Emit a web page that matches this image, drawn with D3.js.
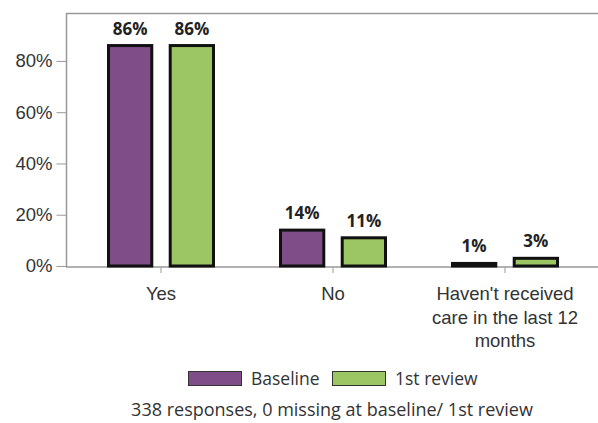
<!DOCTYPE html>
<meta charset="utf-8">
<head>
<style>
  body { margin: 0; background: #fff; }
  svg { font-family: "Open Sans", sans-serif; }
  .tick text { font-size: 18.5px; fill: #333; }
  .val { font-size: 17px; font-weight: bold; fill: #222; text-anchor: middle; }
  .legend text { font-size: 17.5px; fill: #333; }
  .footer { font-size: 18px; fill: #333; text-anchor: middle; }
</style>
<script src="https://d3js.org/d3.v7.min.js"></script>
</head>
<body>
<svg width="598" height="423"></svg>
<script>
// data
var categories = ["Yes", "No", "Haven't received care in the last 12 months"];
var series = ["Baseline", "1st review"];
var baseline = [86, 14, 1];
var review = [86, 11, 3];
var yTicks = [0, 20, 40, 60, 80];
var colors = ["#7f4d87", "#9cc563"];

var svg = d3.select("svg");
var plotLeft = 66, plotTop = 13, plotBottom = 266, plotRight = 598;

var x0 = d3.scaleBand().domain(categories).range([75, 591]);
var x1 = d3.scaleBand().domain(series).range([32, 140]).paddingInner(0.25);
var y = d3.scaleLinear().domain([0, 98.7]).range([plotBottom, plotTop]);

// frame
svg.append("line").attr("x1", plotLeft).attr("x2", plotRight).attr("y1", plotTop + 0.5).attr("y2", plotTop + 0.5)
    .attr("stroke", "#999").attr("stroke-width", 1.5);
svg.append("line").attr("x1", plotLeft + 0.5).attr("x2", plotLeft + 0.5).attr("y1", plotTop).attr("y2", plotBottom + 1)
    .attr("stroke", "#999").attr("stroke-width", 1.5);

// y axis
var yAxis = svg.append("g").attr("transform", "translate(" + (plotLeft + 0.5) + ",0)")
    .call(d3.axisLeft(y).tickValues(yTicks).tickFormat(function(d){ return d + "%"; }).tickSize(10).tickSizeOuter(0).tickPadding(4));
yAxis.select(".domain").remove();
yAxis.selectAll("line").attr("stroke", "#999");

// x axis
var xAxis = svg.append("g").attr("transform", "translate(0," + (plotBottom + 1) + ")")
    .call(d3.axisBottom(x0).tickSize(6).tickSizeOuter(0).tickPadding(14));
xAxis.select(".domain").attr("d", "M" + plotLeft + ",0H" + plotRight).attr("stroke", "#999").attr("stroke-width", 1.5);
xAxis.selectAll("line").attr("stroke", "#999");
xAxis.selectAll(".tick text").each(function(d) {
  var t = d3.select(this);
  if (d.length > 20) {
    var lines = ["Haven't received", "care in the last 12", "months"];
    t.text(null);
    lines.forEach(function(l, i) {
      t.append("tspan").attr("x", 0).attr("dy", i === 0 ? "0.71em" : "1.27em").text(l);
    });
  }
});

// bars
var rows = categories.map(function(c, i) { return {cat: c, vals: [baseline[i], review[i]]}; });
var groups = svg.append("g").selectAll("g").data(rows).enter().append("g")
    .attr("transform", function(d){ return "translate(" + x0(d.cat) + ",0)"; });
groups.selectAll("rect").data(function(d){ return d.vals.map(function(v, j){ return {s: series[j], v: v, c: colors[j]}; }); })
  .enter().append("rect")
    .attr("x", function(d){ return x1(d.s) + 1.5; })
    .attr("width", x1.bandwidth() - 3)
    .attr("y", function(d){ return y(d.v); })
    .attr("height", function(d){ return plotBottom - y(d.v); })
    .attr("fill", function(d){ return d.c; })
    .attr("stroke", "#111").attr("stroke-width", 3);
groups.selectAll("text").data(function(d){ return d.vals.map(function(v, j){ return {s: series[j], v: v}; }); })
  .enter().append("text").attr("class", "val")
    .attr("x", function(d){ return x1(d.s) + x1.bandwidth() / 2; })
    .attr("y", function(d){ return y(d.v) - 11; })
    .text(function(d){ return d.v + "%"; });

// legend
var lx = [188, 332];
var legend = svg.append("g").attr("class", "legend");
series.forEach(function(s, i) {
  legend.append("rect").attr("x", lx[i] + 0.5).attr("y", 371.5).attr("width", 53).attr("height", 14)
    .attr("fill", colors[i]).attr("stroke", "#333").attr("stroke-width", 1);
  legend.append("text").attr("x", lx[i] + 63).attr("y", 385).text(s);
});

svg.append("text").attr("class", "footer").attr("x", 332).attr("y", 416)
  .text("338 responses, 0 missing at baseline/ 1st review");
</script>
</body>
